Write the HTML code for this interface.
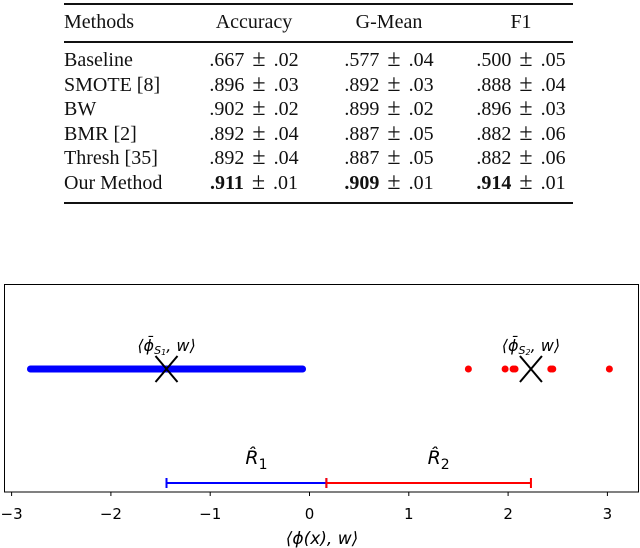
<!DOCTYPE html>
<html><head><meta charset="utf-8"><style>
body{margin:0;width:640px;height:548px;background:#fff;overflow:hidden;position:relative;font-family:"Liberation Serif",serif}
.t{position:absolute;font-size:20px;color:#111;line-height:24px;height:24px;white-space:nowrap}
.c{transform:translateX(-50%)}
.v{word-spacing:3px}
.pm{font-size:24px;line-height:20px}
.rule{position:absolute;left:64px;width:509px;background:#111}
svg{position:absolute;left:0;top:0}
</style></head><body>
<div id="tbl">
<div class="rule" style="top:3px;height:2px"></div>
<div class="rule" style="top:41px;height:1.5px"></div>
<div class="rule" style="top:202px;height:2px"></div>
</div>
<svg id="chart" width="640" height="548"></svg>
<script>
const rows=[
['Methods','Accuracy','G-Mean','F1'],
['Baseline','.667 ± .02','.577 ± .04','.500 ± .05'],
['SMOTE [8]','.896 ± .03','.892 ± .03','.888 ± .04'],
['BW','.902 ± .02','.899 ± .02','.896 ± .03'],
['BMR [2]','.892 ± .04','.887 ± .05','.882 ± .06'],
['Thresh [35]','.892 ± .04','.887 ± .05','.882 ± .06'],
['Our Method','<b>.911</b> ± .01','<b>.909</b> ± .01','<b>.914</b> ± .01']];
const rowY=[22,60,84.6,109.2,133.8,158.4,183];
const colX=[64,254,389,521];
const tbl=document.getElementById('tbl');
rows.forEach((r,i)=>r.forEach((s,j)=>{
  const d=document.createElement('div');
  d.className='t'+(j?' c':'')+(i&&j?' v':'');
  d.style.left=colX[j]+'px';d.style.top=(rowY[i]-12)+'px';
  d.innerHTML=s.replace('±','<span class="pm">±</span>');
  
  
  tbl.appendChild(d);
}));
const ticks=[-3,-2,-1,0,1,2,3];
const blueRange=[-2.81,-0.07];
const redPoints=[1.6,1.97,2.05,2.07,2.43,2.45,3.02];
const means=[-1.44,2.23];
const threshold=0.17;
const svg=document.getElementById('chart');
const NS='http://www.w3.org/2000/svg';
const X0=309.5,SC=99.3;
const xs=v=>X0+v*SC;
function el(t,a,p){const e=document.createElementNS(NS,t);for(const k in a)e.setAttribute(k,a[k]);(p||svg).appendChild(e);return e;}
const frame=el('rect',{x:4.5,y:284.5,width:634,height:207.5,fill:'none',stroke:'#000','stroke-width':1});


ticks.forEach(t=>{
  const l=el('line',{x1:xs(t),x2:xs(t),y1:492,y2:496,stroke:'#000'});
  
  
  const tx=el('text',{x:xs(t),y:519,'text-anchor':'middle','font-family':'DejaVu Sans, sans-serif','font-size':15});
  tx.textContent=t<0?'\u2212'+(-t):String(t);
  
  
});
const xl=el('text',{x:322,y:544,'text-anchor':'middle','font-family':'DejaVu Sans, sans-serif','font-size':17,'font-style':'italic'});
xl.textContent='\u27E8\u03D5(x), w\u27E9';


const py=369;
const bl=el('line',{x1:xs(blueRange[0]),x2:xs(blueRange[1]),y1:py,y2:py,stroke:'#0000ff','stroke-width':7,'stroke-linecap':'round'});


redPoints.forEach(v=>{
  const c=el('circle',{cx:xs(v),cy:py,r:3.5,fill:'#ff0000'});
  
  
});
means.forEach((m,i)=>{
  const g=el('g',{});
  
  
  const x=xs(m),sx=11,sy=13;
  el('path',{d:`M${x-sx},${py-sy}L${x+sx},${py+sy}M${x-sx},${py+sy}L${x+sx},${py-sy}`,stroke:'#000','stroke-width':2},g);
  const t=el('text',{x:x,y:351,'text-anchor':'middle','font-family':'DejaVu Sans, sans-serif','font-size':16,'font-style':'italic'},g);
  t.textContent='\u27E8\u03D5\u0304';
  const sub=el('tspan',{'font-size':11,dy:3},t);sub.textContent='S';
  const sub2=el('tspan',{'font-size':8,dy:1},t);sub2.textContent=String(i+1);
  const rest=el('tspan',{dy:-4},t);rest.textContent=', w\u27E9';
});
const ey=483;
[[means[0],threshold,'#0000ff','R\u0302','1'],[threshold,means[1],'#ff0000','R\u0302','2']].forEach((d,i)=>{
  const g=el('g',{});
  
  
  const a=xs(d[0]),b=xs(d[1]);
  el('path',{d:`M${a},${ey}H${b}M${a},${ey-5}V${ey+5}M${b},${ey-5}V${ey+5}`,stroke:d[2],'stroke-width':2},g);
  const t=el('text',{x:(a+b)/2+10,y:464,'text-anchor':'middle','font-family':'DejaVu Sans, sans-serif','font-size':19,'font-style':'italic'},g);
  t.textContent=d[3];
  const s=el('tspan',{'font-size':14,dy:5,'font-style':'normal'},t);s.textContent=d[4];
});
</script>
</body></html>
